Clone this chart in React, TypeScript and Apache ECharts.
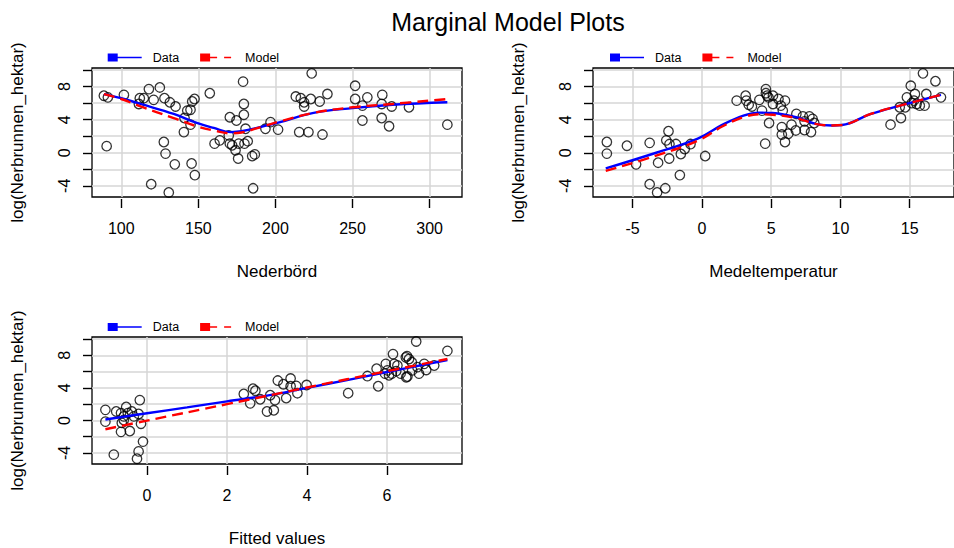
import { useEffect, useRef } from 'react';
import * as echarts from 'echarts';

const FONT = "'Liberation Sans', Arial, Helvetica, sans-serif";

const TITLE = 'Marginal Model Plots';
const Y_NAME = 'log(Nerbrunnen_hektar)';
const Y_TICKS = [-4, -2, 0, 2, 4, 6, 8, 10];
const Y_LABELS = [-4, 0, 4, 8];
const Y_RANGE = [-5.35, 10.25];

// Panel 1: Nederbörd
const nedName = 'Nederbörd';
const nedRange = [81, 321];
const nedTicks = [100, 150, 200, 250, 300];
const nedX = [88.7, 91.3, 90.5, 101.7, 112, 111.4, 114.6, 117.9, 121, 125, 128, 131.5, 135.2, 127.6, 128.7, 134.7, 119.4, 130.8, 140.6, 141, 142.8, 144.9, 146, 147.5, 144.9, 145.6, 147.7, 157.4, 160.5, 163.9, 170.4, 174.7, 179, 179.5, 179.5, 180.6, 169.7, 170.4, 171.9, 176.2, 179.9, 182, 174.1, 175.8, 184.9, 186.6, 185.5, 193.5, 196.8, 201.7, 223.5, 213.2, 216.4, 218.6, 218.6, 222.9, 228.7, 233.7, 215.4, 221.4, 230.5, 251.7, 251.7, 259.6, 256.4, 256.4, 269.3, 268.9, 275.4, 268.9, 273.7, 286.6, 311.5];
const nedY = [6.9, 6.7, 0.8, 7.0, 6.6, 5.9, 6.6, 7.7, 6.4, 7.9, 6.6, 6.1, 5.6, 1.3, -0.1, -1.4, -3.8, -4.8, 2.5, 4.2, 5.1, 5.2, 6.2, 6.5, 3.4, -1.3, -2.7, 7.2, 1.1, 1.5, 4.3, 3.9, 8.6, 5.9, 4.6, 2.9, 2.1, 1.1, 0.9, 1.1, 1.1, 1.4, 0.3, -0.7, -0.4, -0.2, -4.3, 2.9, 3.7, 2.8, 9.6, 6.8, 6.6, 6.1, 5.6, 6.5, 6.2, 7.1, 2.5, 2.5, 2.2, 8.1, 6.5, 6.7, 5.7, 3.9, 7.0, 5.9, 5.6, 4.2, 3.2, 5.5, 3.4];
const nedDataX = [88.7, 100, 112.5, 134, 149, 160, 171, 178, 192, 203, 224, 250, 276, 311.5];
const nedDataY = [7.1, 6.6, 5.9, 4.7, 3.6, 3.0, 2.5, 2.6, 3.2, 3.7, 4.8, 5.4, 5.8, 6.1];
const nedModelX = [88.7, 100, 112.5, 134, 149, 160, 171, 178, 192, 203, 224, 250, 276, 311.5];
const nedModelY = [7.1, 6.5, 5.6, 4.2, 3.2, 2.7, 2.35, 2.45, 3.2, 3.8, 4.8, 5.5, 5.9, 6.5];

// Panel 2: Medeltemperatur
const medName = 'Medeltemperatur';
const medRange = [-7.86, 18.2];
const medTicks = [-5, 0, 5, 10, 15];
const medX = [-6.86, -6.86, -5.41, -4.75, -3.77, -3.16, -3.77, -3.23, -2.64, -2.41, -2.57, -2.34, -1.87, -2.36, -1.52, -1.24, -1.59, -0.82, 0.24, 2.51, 3.16, 3.21, 3.38, 3.61, 4.15, 4.62, 4.62, 4.81, 4.34, 4.85, 4.57, 4.71, 5.13, 5.13, 5.53, 6.0, 5.7, 5.84, 5.77, 5.77, 6.24, 6.0, 6.47, 6.78, 6.82, 7.29, 7.76, 7.41, 7.99, 8.11, 7.41, 7.88, 13.62, 14.37, 14.28, 14.68, 14.8, 15.08, 15.38, 15.31, 15.5, 15.73, 16.08, 15.96, 16.2, 16.86, 17.26, 15.15];
const medY = [1.3, -0.1, 0.85, -1.4, 1.2, -1.2, -3.8, -4.8, -4.3, 2.6, 1.5, 1.05, 1.05, -0.7, -0.15, 0.45, -2.7, 1.05, -0.4, 6.3, 6.9, 6.3, 5.8, 5.6, 6.4, 7.7, 7.2, 6.7, 5.1, 3.6, 1.1, 6.9, 6.9, 5.9, 6.5, 6.3, 5.7, 5.1, 3.1, 2.2, 2.3, 1.3, 3.4, 2.7, 4.7, 4.4, 4.4, 3.8, 4.1, 3.6, 2.75, 2.5, 3.4, 4.2, 5.5, 5.5, 6.7, 8.1, 7.1, 6.3, 5.9, 5.7, 5.7, 9.6, 7.1, 8.65, 6.7, 6.0];
const medDataX = [-6.94, -3.3, -0.3, 1.5, 3.0, 4.15, 5.1, 6.8, 8.2, 9.4, 10.1, 12.2, 14.3, 17.26];
const medDataY = [-1.9, 0.0, 1.7, 3.4, 4.5, 4.85, 4.8, 4.3, 3.5, 3.3, 3.35, 4.7, 5.7, 7.0];
const medModelX = [-6.94, -3.3, -0.3, 1.5, 3.0, 4.15, 5.1, 6.8, 8.2, 9.4, 10.1, 12.2, 14.3, 17.26];
const medModelY = [-2.2, -0.35, 1.45, 3.2, 4.3, 4.65, 4.6, 4.2, 3.5, 3.3, 3.35, 4.7, 5.7, 7.0];

// Panel 3: Fitted values
const fitName = 'Fitted values';
const fitRange = [-1.375, 7.875];
const fitTicks = [0, 2, 4, 6];
const fitX = [-1.04, -1.04, -0.77, -0.65, -0.52, -0.58, -0.63, -0.65, -0.43, -0.38, -0.33, -0.21, -0.18, -0.15, -0.1, -0.21, -0.25, -0.83, -0.48, -0.58, 2.42, 2.58, 2.65, 2.71, 2.83, 3.0, 3.17, 3.08, 3.2, 3.27, 3.41, 3.59, 3.59, 3.73, 3.76, 3.48, 3.99, 5.03, 5.51, 5.74, 5.78, 5.97, 6.01, 6.05, 6.15, 6.18, 6.23, 6.34, 6.47, 6.55, 6.62, 6.51, 6.63, 6.73, 6.76, 6.8, 6.93, 6.98, 7.18, 7.51, 5.95, 6.12, 6.26, 6.5, 6.48];
const fitY = [1.3, -0.15, 1.1, 0.9, 1.65, 0.5, -0.3, -1.4, -1.3, 1.1, 0.5, 0.8, 2.5, -0.4, -2.6, -3.8, -4.7, -4.2, 0.9, 0.05, 3.25, 2.1, 3.9, 3.65, 2.6, 1.1, 1.25, 3.1, 2.5, 4.9, 4.45, 5.15, 4.2, 4.25, 3.35, 2.75, 4.35, 3.35, 5.45, 6.35, 4.2, 6.95, 6.15, 5.55, 8.15, 6.95, 6.05, 5.75, 7.75, 7.55, 7.15, 5.4, 6.15, 9.7, 6.55, 5.75, 6.95, 6.2, 6.75, 8.55, 5.75, 5.75, 6.75, 7.9, 5.3];
const fitDataX = [-1.04, 0, 1, 2, 3, 4, 5, 6, 7.51];
const fitDataY = [0.12, 0.88, 1.6, 2.35, 3.05, 4.0, 4.95, 5.95, 7.43];
const fitModelX = [-1.04, 0, 2, 4, 6, 7.51];
const fitModelY = [-1.08, -0.02, 2.0, 4.05, 6.05, 7.55];

const zip = (xs: number[], ys: number[]) => xs.map((x, i) => [x, ys[i]]);

const BLUE = '#0000ff';
const RED = '#ff0000';
const GRIDLINE = '#d6d6d6';

const ICON_DATA = 'path://M0,0H10V8H0Z M10,3.35H34V4.65H10Z';
const ICON_MODEL = 'path://M0,0H10V8H0Z M10,3.35H17V4.65H10Z M24,3.35H31V4.65H24Z M33.99,4H34V4.01H33.99Z';

export default function App() {
  const ref = useRef<HTMLDivElement>(null);
  useEffect(() => {
    if (!ref.current) return;
    const chart = echarts.init(ref.current, undefined, { renderer: 'svg' });

    const grids = [
      { left: 92, top: 68, width: 370, height: 129 },
      { left: 593, top: 68, width: 370, height: 129 },
      { left: 92, top: 337, width: 370, height: 130 },
    ];
    const xInfo = [
      { name: nedName, range: nedRange, ticks: nedTicks },
      { name: medName, range: medRange, ticks: medTicks },
      { name: fitName, range: fitRange, ticks: fitTicks },
    ];
    const panels = [
      { pts: zip(nedX, nedY), data: zip(nedDataX, nedDataY), model: zip(nedModelX, nedModelY) },
      { pts: zip(medX, medY), data: zip(medDataX, medDataY), model: zip(medModelX, medModelY) },
      { pts: zip(fitX, fitY), data: zip(fitDataX, fitDataY), model: zip(fitModelX, fitModelY) },
    ];
    const legendPos = [
      { left: 102.7, top: 46 },
      { left: 605, top: 46 },
      { left: 102.7, top: 315.5 },
    ];

    const series: any[] = [];
    panels.forEach((p, i) => {
      series.push({
        type: 'scatter', xAxisIndex: i, yAxisIndex: i, data: p.pts,
        symbol: 'circle', symbolSize: 9.5, silent: true,
        itemStyle: { color: 'rgba(0,0,0,0)', borderColor: '#000', borderWidth: 1.3 },
      });
      series.push({
        name: 'Data', type: 'line', xAxisIndex: i, yAxisIndex: i, data: p.data,
        smooth: 0.4, showSymbol: false, color: BLUE, silent: true,
        itemStyle: { color: BLUE },
        lineStyle: { color: BLUE, width: 2.4 },
      });
      series.push({
        name: 'Model', type: 'line', xAxisIndex: i, yAxisIndex: i, data: p.model,
        smooth: 0.4, showSymbol: false, color: RED, silent: true,
        itemStyle: { color: RED },
        lineStyle: { color: RED, width: 2.4, type: [11, 6] },
      });
    });

    const tickStyle = { show: true, length: 9, lineStyle: { color: '#000', width: 1.4 } };

    const option: any = {
      animation: false,
      backgroundColor: '#fff',
      textStyle: { fontFamily: FONT },
      graphic: [
        {
          type: 'text', x: 508, y: 22,
          style: { text: TITLE, fontSize: 25, fontFamily: FONT, fill: '#000', align: 'center', verticalAlign: 'middle' },
        },
      ],
      legend: legendPos.map((lp) => ({
        left: lp.left, top: lp.top, orient: 'horizontal', selectedMode: false,
        itemWidth: 34, itemHeight: 8, itemGap: 21,
        itemStyle: { borderWidth: 0 },
        textStyle: { fontSize: 12.5, color: '#000', fontFamily: FONT, padding: [0, 0, 0, 6] },
        data: [
          { name: 'Data', icon: ICON_DATA },
          { name: 'Model', icon: ICON_MODEL },
        ],
      })),
      grid: grids.map((g) => ({ ...g, show: true, borderColor: '#000', borderWidth: 1.3, backgroundColor: 'transparent' })),
      xAxis: xInfo.map((xi, i) => ({
        type: 'value', gridIndex: i, min: xi.range[0], max: xi.range[1], offset: 2,
        name: xi.name, nameLocation: 'middle', nameGap: 64,
        nameTextStyle: { fontSize: 17, color: '#000', fontFamily: FONT },
        axisLine: { show: false, onZero: false },
        axisTick: { ...tickStyle, customValues: xi.ticks },
        axisLabel: { customValues: xi.ticks, margin: 21, fontSize: 16, color: '#000', fontFamily: FONT },
        splitLine: { show: true, lineStyle: { color: GRIDLINE, width: 1.5 } },
      })),
      yAxis: grids.map((_, i) => ({
        type: 'value', gridIndex: i, min: Y_RANGE[0], max: Y_RANGE[1],
        name: Y_NAME, nameLocation: 'middle', nameGap: 66,
        nameTextStyle: { fontSize: 17, color: '#000', fontFamily: FONT },
        axisLine: { show: false, onZero: false },
        axisTick: { ...tickStyle, customValues: Y_TICKS },
        axisLabel: { customValues: Y_LABELS, rotate: 90, margin: 20, fontSize: 16, color: '#000', fontFamily: FONT },
        splitLine: { show: true, lineStyle: { color: GRIDLINE, width: 1.5 } },
      })),
      series,
    };
    chart.setOption(option);
    return () => chart.dispose();
  }, []);
  return <div ref={ref} style={{ position: 'fixed', left: 0, top: 0, width: 954, height: 548 }} />;
}
